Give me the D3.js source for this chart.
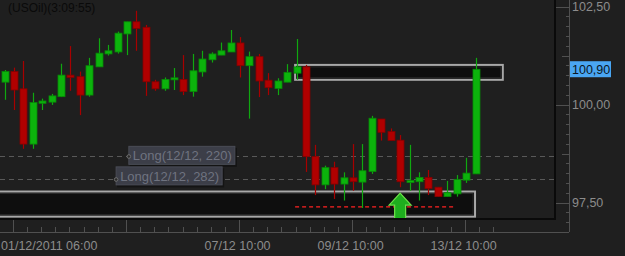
<!DOCTYPE html>
<html>
<head>
<meta charset="utf-8">
<script src="https://cdn.jsdelivr.net/npm/d3@7"></script>
<style>
  body { margin: 0; background: #1f1f1f; }
  svg { display: block; font-family: "Liberation Sans", Arial, sans-serif; }
</style>
</head>
<body>
<svg></svg>
<script>
const width = 625;
const height = 256;
const plot = { left: 0, top: 0, right: 555, bottom: 219 };
const axisX = 569, axisY = 232;

// 4h candles
const open  = [100.57,100.84,100.40, 98.99,100.03,100.06,100.20,100.75,100.71,100.24,100.96,101.29,101.34,101.80,102.11,101.97,100.58,100.40,100.65,100.64,100.33,100.83,101.14,101.26,101.34,101.57,100.99,101.22,100.62,100.41,100.57,100.80,100.96, 98.67, 97.95, 98.39, 97.97, 98.13, 98.02, 98.29, 99.63, 99.31, 99.09, 98.04, 98.03, 98.14, 97.89, 97.65, 97.72, 98.07, 98.23];
const high  = [100.88,100.94,101.11,100.30,100.15,100.27,101.04,101.49,100.84,101.19,101.69,101.52,101.86,102.11,102.39,102.03,100.63,100.69,100.93,101.26,101.29,101.37,101.33,101.58,101.90,101.72,101.35,101.29,100.80,100.67,101.03,101.67,101.01, 98.97, 98.44, 98.54, 98.27, 98.99, 98.99, 99.71, 99.63, 99.39, 99.22, 98.97, 98.27, 98.33, 97.89, 98.05, 98.20, 98.64,101.19];
const low   = [100.12, 99.86, 98.87, 98.87, 99.86, 99.99,100.19,100.35, 99.73,100.20,100.96,101.25,101.30,101.26,101.37,100.22,100.35,100.35,100.37,100.24,100.20,100.71,101.07,101.26,101.34,100.69, 99.64,100.19,100.24,100.24,100.57,100.63, 98.28, 97.69, 97.84, 97.59, 97.55, 97.80, 97.36, 98.23, 99.08, 99.08, 97.89, 97.80, 97.55, 97.69, 97.65, 97.65, 97.65, 98.00, 98.23];
const close = [100.84,100.37, 98.99,100.05,100.09,100.22,100.75,100.69,100.24,100.99,101.31,101.37,101.82,102.11,101.94,100.58,100.40,100.64,100.68,100.33,100.86,101.16,101.29,101.37,101.57,100.99,101.22,100.60,100.43,100.60,100.82,100.96, 98.67, 97.95, 98.39, 97.97, 98.13, 98.03, 98.31, 99.65, 99.29, 99.08, 98.03, 98.06, 98.14, 97.86, 97.65, 97.75, 98.09, 98.25,100.90];

const yTickVals = [102.5, 100, 97.5];
const yTickLabels = ["102,50", "100,00", "97,50"];
const lastPrice = 100.90;
const lastLabel = "100,90";

const xMajorIdx = [0.9, 12.9, 24.9, 36.9, 48.9];
const xLabelIdx = [24.9, 36.9, 48.9];
const xLabels = ["07/12 10:00", "09/12 10:00", "13/12 10:00"];
const firstLabel = "01/12/2011 06:00";
const title = "(USOil)(3:09:55)";

// zones: [idx0, idx1, priceTop, priceBottom]
const zones = [[30.85, 52.9, 101.01, 100.63], [-1, 49.95, 97.78, 97.14]];
// long orders: price, label, label left idx
const longLevels = [98.69, 98.09];
const longLabels = ["Long(12/12, 220)", "Long(12/12, 282)"];
const longStartIdx = [13.2, 11.85];
const stopLine = [30.85, 47.8, 97.39];
const arrowIdx = 42.0, arrowPrice = 97.74;

const data = open.map((o, i) => ({ i, o, h: high[i], l: low[i], c: close[i] }));

const svg = d3.select("svg").attr("width", width).attr("height", height);

const x = d3.scaleLinear().domain([0, 50]).range([4.5, 475.5]);
const y = d3.scaleLinear().domain([97.5, 102.5]).range([202.5, 6.5]);

svg.append("rect").attr("width", width).attr("height", height).attr("fill", "#1f1f1f");

svg.append("clipPath").attr("id", "clip")
  .append("rect").attr("x", plot.left).attr("y", plot.top)
  .attr("width", plot.right - plot.left).attr("height", plot.bottom - plot.top);

const g = svg.append("g").attr("clip-path", "url(#clip)");

// title
g.append("text").attr("x", 8).attr("y", 12).attr("fill", "#0a0a0a")
  .style("font-size", "12px").text(title);

// order lines
longLevels.forEach((p, k) => {
  g.append("line").attr("x1", 0).attr("x2", plot.right)
    .attr("y1", Math.round(y(p)) + 0.5).attr("y2", Math.round(y(p)) + 0.5)
    .attr("stroke", "#595959").attr("stroke-dasharray", "5,4");
});

// zones
zones.forEach(z => {
  g.append("rect")
    .attr("x", x(z[0])).attr("y", y(z[2]))
    .attr("width", x(z[1]) - x(z[0])).attr("height", y(z[3]) - y(z[2]))
    .attr("fill", "#0e0e0e").attr("stroke", "#a8a8a8").attr("stroke-width", 2);
  g.append("rect")
    .attr("x", x(z[0]) + 2).attr("y", y(z[2]) + 2)
    .attr("width", x(z[1]) - x(z[0]) - 4).attr("height", y(z[3]) - y(z[2]) - 4)
    .attr("fill", "none").attr("stroke", "#2a2a2a").attr("stroke-width", 1);
});

// stop line
g.append("line")
  .attr("x1", x(stopLine[0])).attr("x2", x(stopLine[1]))
  .attr("y1", y(stopLine[2])).attr("y2", y(stopLine[2]))
  .attr("stroke", "#ff2222").attr("stroke-width", 1.2).attr("stroke-dasharray", "4,3");

// candles
const up = d => d.c >= d.o;
g.selectAll("line.wick").data(data).join("line").attr("class", "wick")
  .attr("x1", d => Math.round(x(d.i)) + 0.5).attr("x2", d => Math.round(x(d.i)) + 0.5)
  .attr("y1", d => y(d.h)).attr("y2", d => y(d.l))
  .attr("stroke", d => up(d) ? "#10a810" : "#a80000").attr("stroke-width", 1.2);

g.selectAll("rect.body").data(data).join("rect").attr("class", "body")
  .attr("x", d => Math.round(x(d.i)) - 3)
  .attr("y", d => y(Math.max(d.o, d.c)))
  .attr("width", 7)
  .attr("height", d => Math.max(2, Math.abs(y(d.o) - y(d.c))))
  .attr("fill", d => up(d) ? "#0cb30c" : "#b00000")
  .attr("stroke", d => up(d) ? "#078a07" : "#860000").attr("stroke-width", 0.8);

// arrow
const ax = x(arrowIdx), ay = y(arrowPrice);
g.append("path")
  .attr("d", `M${ax},${ay} L${ax + 11},${ay + 12} L${ax + 5.5},${ay + 12} L${ax + 5.5},${plot.bottom + 2} L${ax - 5.5},${plot.bottom + 2} L${ax - 5.5},${ay + 12} L${ax - 11},${ay + 12} Z`)
  .attr("fill", "#1eae1e").attr("stroke", "#6ee04a").attr("stroke-width", 1.2);

// long labels
longLevels.forEach((p, k) => {
  const lx = x(longStartIdx[k]);
  const cy = y(p) + (k === 1 ? -3 : 0);
  g.append("rect").attr("x", lx + 1).attr("y", cy - 8).attr("width", 107).attr("height", 19)
    .attr("fill", "#141414");
  g.append("rect").attr("x", lx).attr("y", cy - 9.5).attr("width", 106).attr("height", 18)
    .attr("fill", "#3c3e48").attr("stroke", "#4a4c56");
  g.append("circle").attr("cx", lx).attr("cy", Math.round(y(p)) + 0.5).attr("r", 1.8)
    .attr("fill", "#2a2a2a").attr("stroke", "#707070");
  g.append("text").attr("x", lx + 4).attr("y", cy + 4.5)
    .attr("fill", "#6f7380").style("font-size", "13px").text(longLabels[k]);
});

// plot border
svg.append("path")
  .attr("d", `M${plot.right},0 V${plot.bottom} H0`)
  .attr("fill", "none").attr("stroke", "#0a0a0a").attr("stroke-width", 2);

// y axis
svg.append("line").attr("x1", axisX + 0.5).attr("x2", axisX + 0.5).attr("y1", 0).attr("y2", axisY)
  .attr("stroke", "#505050");
const yMinor = d3.range(97, 102.76, 0.25);
svg.selectAll("line.ytick").data(yMinor).join("line").attr("class", "ytick")
  .attr("x1", d => {
    const r = Math.round(d * 4) % 10;
    if (r === 0) return axisX - 13;
    if (r === 5) return axisX - 7;
    return axisX - 3;
  })
  .attr("x2", axisX)
  .attr("y1", d => Math.round(y(d)) + 0.5).attr("y2", d => Math.round(y(d)) + 0.5)
  .attr("stroke", "#505050");
svg.selectAll("text.ylab").data(yTickVals).join("text").attr("class", "ylab")
  .attr("x", 572).attr("y", d => y(d) + 4.5)
  .attr("fill", "#8c8c8c").style("font-size", "12.5px")
  .text((d, i) => yTickLabels[i]);

// last price label
svg.append("rect").attr("x", 570).attr("y", y(lastPrice) - 8).attr("width", 41).attr("height", 16)
  .attr("fill", "#4aa6f2");
svg.append("text").attr("x", 572).attr("y", y(lastPrice) + 4.5)
  .attr("fill", "#0c1622").style("font-size", "12.5px").text(lastLabel);

// x axis
svg.append("line").attr("x1", 0).attr("x2", axisX).attr("y1", axisY + 0.5).attr("y2", axisY + 0.5)
  .attr("stroke", "#505050");
const xMinor = d3.range(-0.6, 52, 1.5);
svg.selectAll("line.xminor").data(xMinor).join("line").attr("class", "xminor")
  .attr("x1", d => Math.round(x(d)) + 0.5).attr("x2", d => Math.round(x(d)) + 0.5)
  .attr("y1", axisY - 5).attr("y2", axisY).attr("stroke", "#505050");
svg.selectAll("line.xmajor").data(xMajorIdx).join("line").attr("class", "xmajor")
  .attr("x1", d => Math.round(x(d)) + 0.5).attr("x2", d => Math.round(x(d)) + 0.5)
  .attr("y1", plot.bottom + 1).attr("y2", axisY).attr("stroke", "#505050");
svg.selectAll("text.xlab").data(xLabelIdx).join("text").attr("class", "xlab")
  .attr("x", d => x(d) - 1.5).attr("y", 250).attr("text-anchor", "middle")
  .attr("fill", "#8c8c8c").style("font-size", "12.5px")
  .text((d, i) => xLabels[i]);
svg.append("text").attr("x", 1).attr("y", 250)
  .attr("fill", "#8c8c8c").style("font-size", "12.5px").text(firstLabel);
</script>
</body>
</html>
